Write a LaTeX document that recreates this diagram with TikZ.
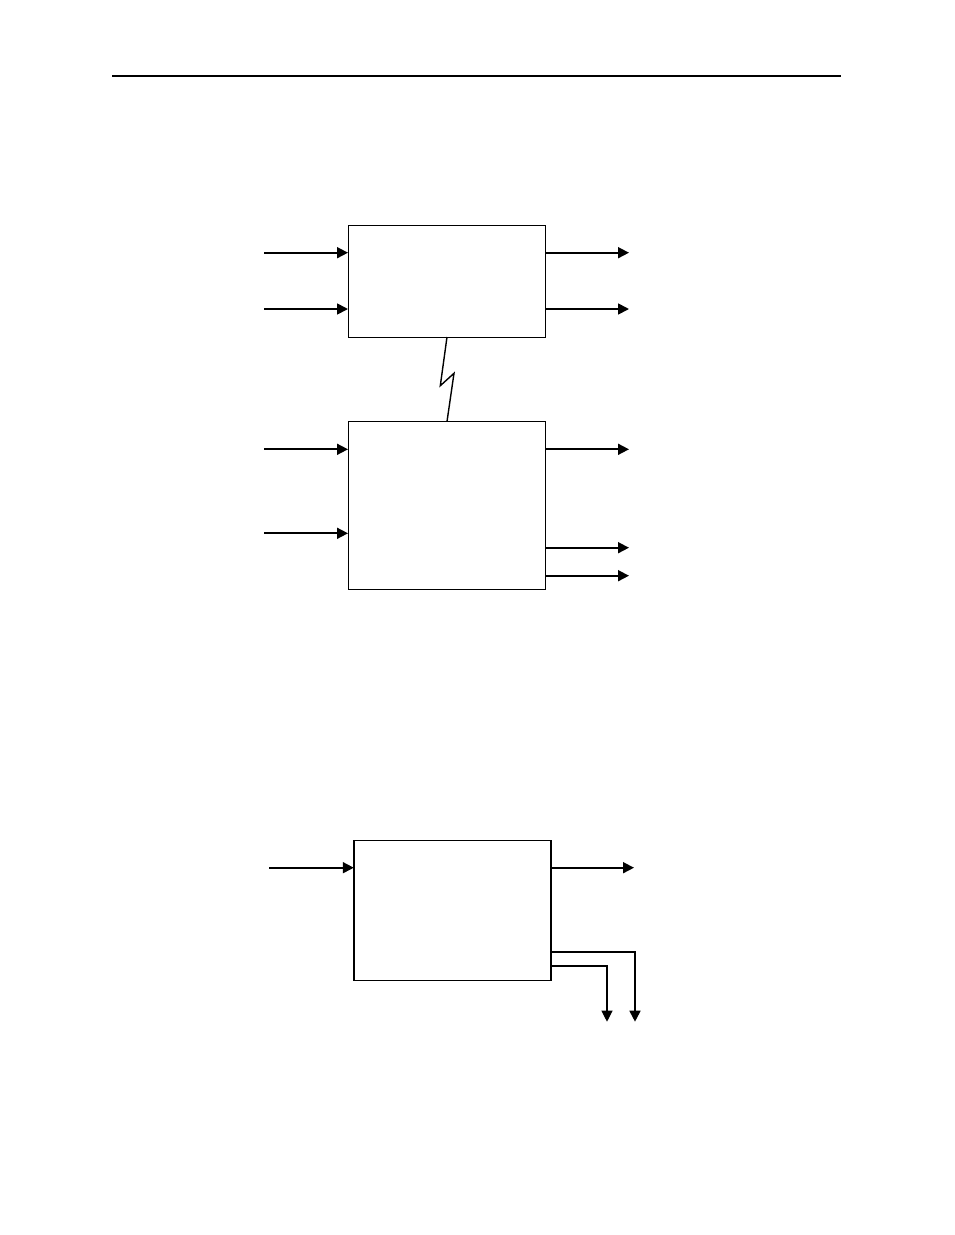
\documentclass[tikz,border=0pt]{standalone}
\usetikzlibrary{arrows.meta}
\begin{document}
\begin{tikzpicture}[x=1pt,y=-1pt,
  box/.style={draw=black,line width=0.8pt,fill=white,inner sep=0pt,outer sep=0pt},
  arr/.style={line width=1.7pt,-{Triangle[length=11pt,width=11pt]}},
  thinarr/.style={line width=1.1pt,-{Triangle[length=11pt,width=11pt]}},
  rule/.style={line width=2pt}]
\useasboundingbox (0,0) rectangle (954,1235);
% header rule
\coordinate (hl) at (112,75.7);
\coordinate (hr) at (841,75.7);
\draw[rule] (hl) -- (hr);
% boxes
\node[box,minimum width=197pt,minimum height=112pt] (b1) at (446.5,281) {};
\node[box,minimum width=197pt,minimum height=168pt] (b2) at (446.5,505.5) {};
\node[box,line width=1.4pt,minimum width=197pt,minimum height=140pt] (b3) at (452.3,910.2) {};
\draw[line width=1.5pt] (b2.south west) -- (b2.south east);
% box 1 arrows
\coordinate (i11) at (264,252.7);
\coordinate (i12) at (264,309);
\coordinate (o11) at (629,252.7);
\coordinate (o12) at (629,309);
\draw[arr] (i11) -- (i11 -| b1.west);
\draw[arr] (i12) -- (i12 -| b1.west);
\draw[arr] (o11 -| b1.east) -- (o11);
\draw[arr] (o12 -| b1.east) -- (o12);
% zigzag link
\coordinate (z1) at (440.3,385.7);
\coordinate (z2) at (454,373.3);
\draw[line width=1.4pt] (b1.south -| 447,0) -- (z1) -- (z2) -- (b2.north -| 447,0);
% box 2 arrows
\coordinate (i21) at (264,449.3);
\coordinate (i22) at (264,533.3);
\coordinate (o21) at (629,449.3);
\coordinate (o22) at (629,547.7);
\coordinate (o23) at (629,575.7);
\draw[arr] (i21) -- (i21 -| b2.west);
\draw[arr] (i22) -- (i22 -| b2.west);
\draw[arr] (o21 -| b2.east) -- (o21);
\draw[arr] (o22 -| b2.east) -- (o22);
\draw[arr] (o23 -| b2.east) -- (o23);
% box 3 arrows
\coordinate (i31) at (269.3,867.7);
\coordinate (o31) at (634,867.7);
\coordinate (d1) at (635,1021.7);
\coordinate (d2) at (607,1021.7);
\draw[arr] (i31) -- (i31 -| b3.west);
\draw[arr] (o31 -| b3.east) -- (o31);
\draw[arr] (b3.east |- 0,952) -- (d1 |- 0,952) -- (d1);
\draw[thinarr] (b3.east |- 0,966) -- (d2 |- 0,966) -- (d2);
\end{tikzpicture}
\end{document}
